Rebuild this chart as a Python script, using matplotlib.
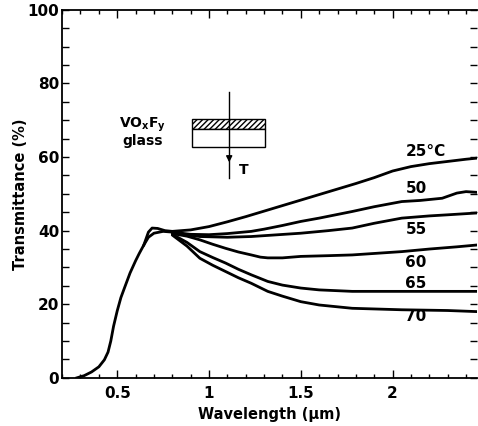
import matplotlib
matplotlib.use('Agg')
import matplotlib.pyplot as plt
from matplotlib.patches import Rectangle
from matplotlib.ticker import MultipleLocator

# common rising part (all temperatures)
rise_x = [0.28, 0.32, 0.36, 0.40, 0.43, 0.45, 0.465, 0.48, 0.50, 0.52, 0.54, 0.57, 0.60, 0.62, 0.645, 0.67, 0.70, 0.75, 0.80]
rise_y = [0.0, 0.6, 1.6, 3.0, 4.9, 7.0, 10.0, 14.0, 18.2, 21.8, 24.5, 28.5, 31.8, 33.8, 36.1, 38.2, 39.3, 39.8, 39.6]
# small loop near the maximum
hump_x = [0.645, 0.67, 0.69, 0.72, 0.76, 0.80]
hump_y = [36.1, 39.6, 40.7, 40.6, 40.0, 39.8]

# branches above ~0.8 um
x25 = [0.80, 0.90, 1.0, 1.1, 1.2, 1.3, 1.4, 1.5, 1.6, 1.7, 1.8, 1.9, 2.0, 2.1, 2.2, 2.3, 2.4, 2.46]
y25 = [39.8, 40.2, 41.1, 42.4, 43.8, 45.3, 46.8, 48.3, 49.8, 51.3, 52.8, 54.4, 56.2, 57.4, 58.2, 58.8, 59.4, 59.7]

x50 = [0.80, 0.90, 1.0, 1.1, 1.23, 1.3, 1.4, 1.5, 1.6, 1.7, 1.78, 1.9, 2.05, 2.15, 2.27, 2.35, 2.4, 2.46]
y50 = [39.6, 39.0, 38.9, 39.2, 39.8, 40.4, 41.4, 42.5, 43.4, 44.4, 45.2, 46.5, 47.9, 48.2, 48.8, 50.2, 50.6, 50.4]

x55 = [0.80, 0.95, 1.1, 1.23, 1.35, 1.5, 1.65, 1.78, 1.9, 2.05, 2.2, 2.3, 2.46]
y55 = [39.4, 38.4, 38.2, 38.4, 38.8, 39.3, 40.0, 40.7, 42.0, 43.4, 44.0, 44.3, 44.8]

x60 = [0.80, 0.88, 0.95, 1.02, 1.09, 1.16, 1.23, 1.28, 1.32, 1.4, 1.5, 1.65, 1.78, 1.9, 2.05, 2.2, 2.35, 2.46]
y60 = [39.2, 38.5, 37.5, 36.3, 35.2, 34.2, 33.4, 32.8, 32.6, 32.6, 33.0, 33.2, 33.4, 33.8, 34.3, 35.0, 35.6, 36.1]

x65 = [0.80, 0.88, 0.95, 1.02, 1.09, 1.16, 1.23, 1.32, 1.4, 1.5, 1.6, 1.78, 2.05, 2.46]
y65 = [39.0, 36.8, 34.3, 32.7, 31.2, 29.5, 28.0, 26.2, 25.2, 24.4, 23.9, 23.5, 23.5, 23.5]

x70 = [0.80, 0.88, 0.95, 1.02, 1.09, 1.16, 1.23, 1.32, 1.4, 1.5, 1.6, 1.78, 2.05, 2.3, 2.46]
y70 = [38.8, 35.8, 32.5, 30.6, 28.9, 27.2, 25.7, 23.5, 22.2, 20.7, 19.8, 18.9, 18.5, 18.3, 18.0]

labels = ['25\u00b0C', '50', '55', '60', '65', '70']
label_y = [61.4, 51.5, 40.4, 31.3, 25.7, 16.8]

xticks = [0.5, 1, 1.5, 2]
xticklabels = ['0.5', '1', '1.5', '2']
yticks = [0, 20, 40, 60, 80, 100]

plt.rcParams['font.family'] = ['DejaVu Sans']
plt.rcParams['font.weight'] = 'bold'

fig = plt.figure(figsize=(4.78, 4.26), dpi=100)
ax = fig.add_axes([0.130, 0.113, 0.868, 0.864])

lw = 2.0
ax.plot(rise_x, rise_y, color='black', lw=lw)
ax.plot(hump_x, hump_y, color='black', lw=lw)
for xs, ys in [(x25, y25), (x50, y50), (x55, y55), (x60, y60), (x65, y65), (x70, y70)]:
    ax.plot(xs, ys, color='black', lw=lw, solid_capstyle='round')

for lab, yy in zip(labels, label_y):
    ax.text(2.07, yy, lab, fontsize=11, fontweight='bold', ha='left', va='center')

# inset sketch of the sample
ax.text(0.64, 68.8, 'VO$_\\mathbf{x}$F$_\\mathbf{y}$', fontsize=10, fontweight='bold', ha='center', va='center')
ax.text(0.64, 64.4, 'glass', fontsize=10, fontweight='bold', ha='center', va='center')
ax.add_patch(Rectangle((0.91, 67.6), 0.396, 2.7, facecolor='white', edgecolor='black', hatch='//////', lw=1.0))
ax.add_patch(Rectangle((0.91, 62.7), 0.396, 4.9, facecolor='white', edgecolor='black', lw=1.0))
ax.plot([1.11, 1.11], [77.8, 54.3], color='black', lw=1.0)
ax.annotate('', xy=(1.11, 57.8), xytext=(1.11, 61.0),
            arrowprops=dict(arrowstyle='-|>', color='black', lw=1.0, mutation_scale=9))
ax.text(1.16, 56.5, 'T', fontsize=10, fontweight='bold', ha='left', va='center')

ax.set_xlim(0.2, 2.46)
ax.set_ylim(0, 100)
ax.set_xticks(xticks)
ax.set_xticklabels(xticklabels)
ax.set_yticks(yticks)
ax.xaxis.set_minor_locator(MultipleLocator(0.1))
ax.yaxis.set_minor_locator(MultipleLocator(5))
ax.tick_params(axis='both', which='both', direction='in', top=True, right=True, labelsize=11, width=1.0)
ax.tick_params(axis='x', which='major', length=6, pad=6)
ax.tick_params(axis='x', which='minor', length=3)
ax.tick_params(axis='y', which='both', length=5, pad=2)
for t in ax.get_xticklabels() + ax.get_yticklabels():
    t.set_fontweight('bold')

ax.spines['right'].set_visible(False)
for s in ['left', 'bottom', 'top']:
    ax.spines[s].set_linewidth(1.3)

ax.set_xlabel('Wavelength (\u03bcm)', fontsize=10.5, fontweight='bold', labelpad=4)
ax.set_ylabel('Transmittance (%)', fontsize=10.5, fontweight='bold', labelpad=0)

fig.savefig('out.png', dpi=100)
